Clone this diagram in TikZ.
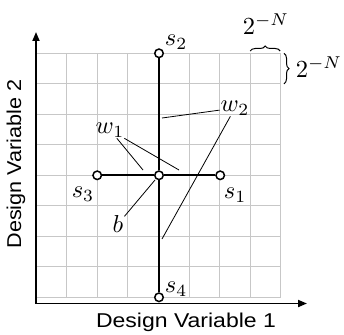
\documentclass[tikz,border=0pt]{standalone}
\usepackage{fontspec}
\setmainfont{Liberation Sans}
\usetikzlibrary{arrows.meta,decorations.pathreplacing}
\newcommand{\mlab}[1]{\scalebox{2.45}{$#1$}}
\begin{document}
\begin{tikzpicture}[x=1pt,y=-1pt,
  gridline/.style={draw=black!22,line width=0.9pt},
  axisline/.style={line width=1.8pt,-{Triangle[length=9pt,width=7pt]}},
  thickline/.style={line width=2pt},
  pt/.style={circle,draw,fill=white,line width=1.5pt,minimum size=8.5pt,inner sep=0pt},
  lbl/.style={inner sep=1pt},
  leader/.style={line width=0.8pt},
  axlbl/.style={font=\fontsize{20}{24}\selectfont},
  brc/.style={decorate,decoration={brace,amplitude=5pt},line width=1pt}]
\useasboundingbox (0,0) rectangle (344,334);
% grid
\foreach \i in {0,...,8}{
  \draw[gridline] (36+30.6*\i,53.3) -- (36+30.6*\i,298);
}
\foreach \j in {0,...,8}{
  \draw[gridline] (36,53.3+30.5*\j) -- (280.8,53.3+30.5*\j);
}
% axes
\coordinate (O) at (36,303.5);
\coordinate (Xend) at (307,303.5);
\coordinate (Yend) at (36,32);
\draw[axisline] (O) -- (Xend);
\draw[axisline] (O) -- (Yend);
% points
\node[pt] (b) at (159,175.3) {};
\node[pt] (s2) at (159,53.3) {};
\node[pt] (s4) at (159,297.3) {};
\node[pt] (s3) at (97.2,175.3) {};
\node[pt] (s1) at (220.2,175.3) {};
\draw[thickline] (s2) -- (b);
\draw[thickline] (b) -- (s4);
\draw[thickline] (s3) -- (b);
\draw[thickline] (b) -- (s1);
% labels
\node[lbl] (ls2) at (176,42) {\mlab{s_2}};
\node[lbl] (ls4) at (176,289) {\mlab{s_4}};
\node[lbl] (ls3) at (83,194) {\mlab{s_3}};
\node[lbl] (ls1) at (235,195) {\mlab{s_1}};
\node[lbl] (lb) at (118,224) {\mlab{b}};
\node[lbl] (lw1) at (110,130) {\mlab{w_1}};
\node[lbl] (lw2) at (235,108) {\mlab{w_2}};
% leaders
\coordinate (a1) at (162,118);
\coordinate (a2) at (162,239);
\coordinate (a3) at (143,170);
\coordinate (a4) at (179,170);
\coordinate (a5) at (155,180);
\draw[leader] (lw2) -- (a1);
\draw[leader] (lw2) -- (a2);
\draw[leader] (lw1) -- (a3);
\draw[leader] (lw1) -- (a4);
\draw[leader] (lb) -- (a5);
% braces
\coordinate (bt1) at (250.2,51);
\coordinate (bt2) at (280.2,51);
\draw[brc] (bt1) -- (bt2);
\node[lbl] (ltop) at (266,24) {\mlab{2^{-N}}};
\coordinate (br1) at (284,53.3);
\coordinate (br2) at (284,83.8);
\draw[brc] (br1) -- (br2);
\node[lbl] (lright) at (319,67) {\mlab{2^{-N}}};
% axis labels
\node[axlbl] (xl) at (186,322) {\scalebox{1.15}[1]{Design Variable 1}};
\node[axlbl,rotate=90] (yl) at (16,164) {\scalebox{1.08}[1]{Design Variable 2}};
\end{tikzpicture}
\end{document}
